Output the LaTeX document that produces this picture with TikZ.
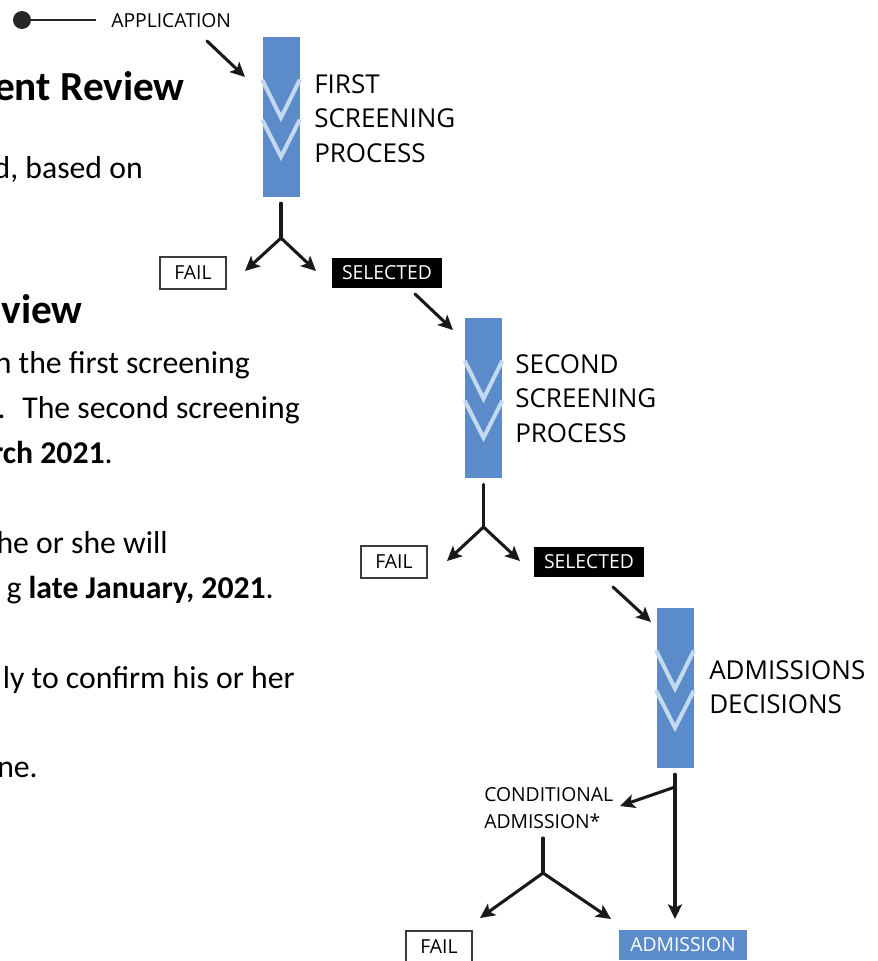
\documentclass[tikz,border=0pt]{standalone}
\usepackage{fontspec}
\setmainfont{Carlito}
\newfontfamily\labelfont{Open Sans}
\usetikzlibrary{arrows.meta,positioning,calc}
\definecolor{barblue}{RGB}{91,140,201}
\definecolor{chevblue}{RGB}{196,217,240}
\definecolor{boxgray}{RGB}{60,60,60}

\begin{document}
\begin{tikzpicture}[x=0.75pt, y=-0.75pt,
    wire/.style = {line width=2.3pt, line cap=round, draw=black!90},
    conn/.style = {wire, -{Stealth[length=11pt,width=10.5pt,inset=2.5pt]}},
    bar/.style = {fill=barblue, minimum width=27.75pt, minimum height=120pt, inner sep=0pt},
    chev/.style = {draw=chevblue, line width=3pt},
    tag/.style = {font=\labelfont\fontsize{14.5}{20.25}\selectfont, inner sep=0pt},
    stage/.style = {font=\labelfont\fontsize{19.5}{25.9}\selectfont, align=left, anchor=west, inner sep=0pt},
    failbox/.style = {tag, draw=boxgray, line width=0.9pt, minimum width=49.5pt, minimum height=24pt},
    selbox/.style = {tag, fill=black, text=white, minimum width=82.5pt, minimum height=22.5pt},
    admbox/.style = {tag, fill=barblue, text=white, minimum width=96pt, minimum height=22.5pt},
    dot/.style = {circle, fill=black!85, minimum size=13.5pt, inner sep=0pt},
    body/.style = {font=\fontsize{23.8}{29}\selectfont, anchor=base east, inner sep=0pt},
    head/.style = {font=\fontsize{31}{36}\selectfont\bfseries, anchor=base east, inner sep=0pt}]

    \useasboundingbox (0,0) rectangle (878,961);

    % cut-off page text on the left
    \node[head] (h1) at (185,100) {ent Review};
    \node[body] (p1) at (143,178) {d, based on};
    \node[head] (h2) at (83,323) {view};
    \node[body] (p2) at (250,373) {n the first screening};
    \node[body] (p3) at (300,418) {.~ The second screening};
    \node[body] (p4) at (113,463) {\textbf{rch 2021}.};
    \node[body] (p5) at (168,553) {he or she will};
    \node[body] (p6) at (274,598) {g \textbf{late January, 2021}.};
    \node[body] (p7) at (295,688) {ly to confirm his or her};
    \node[body] (p8) at (38,777) {ne.};

    % start
    \node[dot] (start) at (22,20) {};
    \coordinate (startend) at (96,20);
    \draw[line width=2pt, draw=black!85] (start) -- (startend);
    \node[tag, anchor=west] (app) at (111,21) {APPLICATION};

    % the three stages
    \node[bar] (b1) at (281,117) {};
    \node[bar] (b2) at (483.5,398) {};
    \node[bar] (b3) at (675,688) {};
    \foreach \b in {b1,b2,b3} {
        \draw[chev] ($(\b.north west)+(0,43)$) -- ($(\b.north)+(0,81)$) -- ($(\b.north east)+(0,43)$);
        \draw[chev] ($(\b.north west)+(0,83)$) -- ($(\b.north)+(0,120)$) -- ($(\b.north east)+(0,83)$);
    }
    \node[stage] (t1) at (314,118.5) {FIRST\\SCREENING\\PROCESS};
    \node[stage] (t2) at (515,398.5) {SECOND\\SCREENING\\PROCESS};
    \node[stage] (t3) at (709,687) {ADMISSIONS\\DECISIONS};

    % outcomes
    \node[failbox] (fail1) at (193,273) {FAIL};
    \node[selbox] (sel1) at (387,273) {SELECTED};
    \node[failbox] (fail2) at (394,562) {FAIL};
    \node[selbox] (sel2) at (589,561.5) {SELECTED};
    \node[tag, align=left, anchor=west] (cond) at (484,808.5) {CONDITIONAL\\ADMISSION*};
    \node[failbox] (fail3) at (439,947) {FAIL};
    \node[admbox] (adm) at (683,945) {ADMISSION};

    \coordinate (appfrom) at (207,41);
    \coordinate (appto) at (245,77);
    \draw[conn] (appfrom) -- (appto);

    \coordinate (f1) at (281,238);
    \coordinate (f1l) at (245,271);
    \coordinate (f1r) at (316,271);
    \draw[wire] ([yshift=-4.5pt]b1.south) -- (f1);
    \draw[conn] (f1) -- (f1l);
    \draw[conn] (f1) -- (f1r);

    \coordinate (s1from) at (415,294);
    \coordinate (s1to) at (453,330);
    \draw[conn] (s1from) -- (s1to);

    \coordinate (f2) at (483.5,527);
    \coordinate (f2l) at (447,561);
    \coordinate (f2r) at (520,561);
    \draw[wire] ([yshift=-4.5pt]b2.south) -- (f2);
    \draw[conn] (f2) -- (f2l);
    \draw[conn] (f2) -- (f2r);

    \coordinate (s2from) at (613,587);
    \coordinate (s2to) at (651,622);
    \draw[conn] (s2from) -- (s2to);

    \coordinate (d3) at (675,787);
    \coordinate (condto) at (620,806);
    \coordinate (admto) at (675,919);
    \draw[conn] ([yshift=-4.5pt]b3.south) -- (admto);
    \draw[conn] (d3) -- (condto);

    \coordinate (f3top) at (543,838);
    \coordinate (f3) at (543,873);
    \coordinate (f3l) at (480,918);
    \coordinate (f3r) at (611,919);
    \draw[wire] (f3top) -- (f3);
    \draw[conn] (f3) -- (f3l);
    \draw[conn] (f3) -- (f3r);

\end{tikzpicture}
\end{document}
